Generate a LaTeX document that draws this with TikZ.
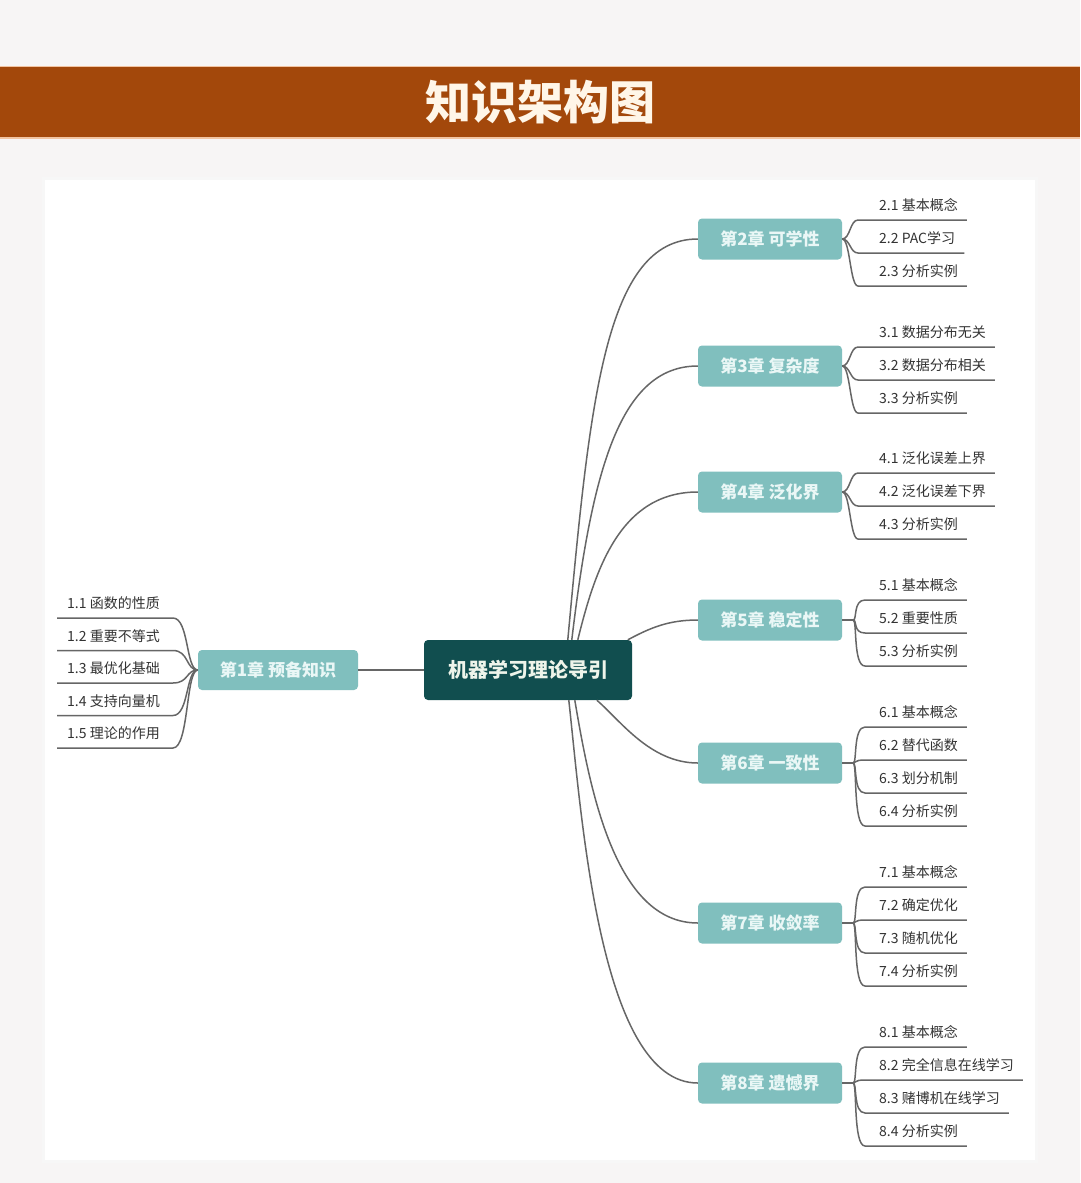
\documentclass[tikz,border=0pt]{standalone}
\usepackage{fontspec}
\setmainfont{Noto Sans CJK SC}
\usetikzlibrary{calc}
\definecolor{bgc}{HTML}{F7F5F5}
\definecolor{barc}{HTML}{A3480B}
\definecolor{baredge}{HTML}{F2C4A2}
\definecolor{titlec}{HTML}{FFF6E8}
\definecolor{centerc}{HTML}{114E4F}
\definecolor{centertxt}{HTML}{EEF4EA}
\definecolor{chapc}{HTML}{80BFBE}
\definecolor{chaptxt}{HTML}{EAF7F6}
\definecolor{linec}{HTML}{666666}
\definecolor{leafc}{HTML}{333333}
\newcommand\rleaf[5]{\node[leaf] (#1) at (#2,#3) {\kern#4#5\kern9pt};}
\newcommand\lleaf[3]{\node[leaf] (#1) at (57,#2) {\kern10pt#3\kern13pt};}
\begin{document}
\begin{tikzpicture}[x=1pt,y=-1pt,
  ln/.style={draw=linec, line width=1.5pt},
  chap/.style={fill=chapc, rounded corners=4pt, minimum width=144pt, minimum height=41pt, inner sep=0pt, text=chaptxt, font=\fontsize{17}{20}\selectfont\bfseries},
  leaf/.style={anchor=south west, inner xsep=0pt, inner ysep=6pt, text height=11pt, text depth=3pt, text=leafc, font=\fontsize{14}{16}\selectfont}]
\useasboundingbox (0,0) rectangle (1080,1183);
\fill[bgc] (0,0) rectangle (1080,1183);
% title bar
\fill[barc] (0,66) rectangle (1080,138);
\draw[baredge, line width=1pt] (0,66.5) -- (1080,66.5);
\draw[baredge, line width=1.2pt] (0,138) -- (1080,138);
\node[text=titlec, font=\fontsize{46}{50}\selectfont\bfseries] (title) at (540,102) {知识架构图};
% panel
\fill[black!3] (42,177) rectangle (1038,1163);
\fill[white] (45,180) rectangle (1035,1160);
% central and chapter nodes
\node[fill=centerc, rounded corners=4pt, minimum width=208pt, minimum height=60pt, inner sep=0pt, text=centertxt, font=\fontsize{20}{24}\selectfont\bfseries] (ctr) at (528,670) {机器学习理论导引};
\node[chap, minimum width=160pt, minimum height=40pt] (c1) at (278,670) {第1章 预备知识};
\node[chap] (c2) at (770,239) {第2章 可学性};
\node[chap] (c3) at (770,366) {第3章 复杂度};
\node[chap] (c4) at (770,492) {第4章 泛化界};
\node[chap] (c5) at (770,620) {第5章 稳定性};
\node[chap] (c6) at (770,763) {第6章 一致性};
\node[chap] (c7) at (770,923) {第7章 收敛率};
\node[chap] (c8) at (770,1083) {第8章 遗憾界};
% start points on the central node
\coordinate (s2) at ($(ctr.north west)+(144,0)$);
\coordinate (s3) at ($(ctr.north west)+(148,0)$);
\coordinate (s4) at ($(ctr.north west)+(154,0)$);
\coordinate (s5) at ($(ctr.north west)+(204,0)$);
\coordinate (s6) at ($(ctr.south west)+(173,0)$);
\coordinate (s7) at ($(ctr.south west)+(151,0)$);
\coordinate (s8) at ($(ctr.south west)+(145,0)$);
\draw[ln] (ctr.west) -- (c1.east);
\draw[ln] (s2) .. controls (590,400) and (605,239) .. (c2.west);
\draw[ln] (s3) .. controls (592,470) and (620,366) .. (c3.west);
\draw[ln] (s4) .. controls (595,570) and (620,492) .. (c4.west);
\draw[ln] (s5) .. controls (650,628) and (668,620) .. (c5.west);
\draw[ln] (s6) .. controls (620,720) and (650,763) .. (c6.west);
\draw[ln] (s7) .. controls (590,790) and (615,923) .. (c7.west);
\draw[ln] (s8) .. controls (582,820) and (600,1083) .. (c8.west);
% chapter 1 leaves
\lleaf{l11}{618}{1.1 函数的性质}
\lleaf{l12}{650.5}{1.2 重要不等式}
\lleaf{l13}{683}{1.3 最优化基础}
\lleaf{l14}{715.5}{1.4 支持向量机}
\lleaf{l15}{748}{1.5 理论的作用}
\foreach \n in {l11,l12,l13,l14,l15}
  \draw[ln] (c1.west) .. controls +(-12,0) and +(16,0) .. (\n.south east) -- (\n.south west);
% chapter 2
\rleaf{l21}{858}{220}{21pt}{2.1 基本概念}
\rleaf{l22}{858}{253}{21pt}{2.2 PAC学习}
\rleaf{l23}{858}{286}{21pt}{2.3 分析实例}
% chapter 3
\rleaf{l31}{858}{347}{21pt}{3.1 数据分布无关}
\rleaf{l32}{858}{380}{21pt}{3.2 数据分布相关}
\rleaf{l33}{858}{413}{21pt}{3.3 分析实例}
% chapter 4
\rleaf{l41}{858}{473}{21pt}{4.1 泛化误差上界}
\rleaf{l42}{858}{506}{21pt}{4.2 泛化误差下界}
\rleaf{l43}{858}{539}{21pt}{4.3 分析实例}
\foreach \c/\ls in {c2/{l21,l22,l23},c3/{l31,l32,l33},c4/{l41,l42,l43}}
  \foreach \n in \ls
    \draw[ln] (\c.east) .. controls +(8,0) and +(-8,0) .. (\n.south west) -- (\n.south east);
% chapter 5
\rleaf{l51}{865}{600}{14pt}{5.1 基本概念}
\rleaf{l52}{865}{633}{14pt}{5.2 重要性质}
\rleaf{l53}{865}{666}{14pt}{5.3 分析实例}
% chapter 6
\rleaf{l61}{865}{727}{14pt}{6.1 基本概念}
\rleaf{l62}{865}{760}{14pt}{6.2 替代函数}
\rleaf{l63}{865}{793}{14pt}{6.3 划分机制}
\rleaf{l64}{865}{826}{14pt}{6.4 分析实例}
% chapter 7
\rleaf{l71}{865}{887}{14pt}{7.1 基本概念}
\rleaf{l72}{865}{920}{14pt}{7.2 确定优化}
\rleaf{l73}{865}{953}{14pt}{7.3 随机优化}
\rleaf{l74}{865}{986}{14pt}{7.4 分析实例}
% chapter 8
\rleaf{l81}{865}{1047}{14pt}{8.1 基本概念}
\rleaf{l82}{865}{1080}{14pt}{8.2 完全信息在线学习}
\rleaf{l83}{865}{1113}{14pt}{8.3 赌博机在线学习}
\rleaf{l84}{865}{1146}{14pt}{8.4 分析实例}
\foreach \c/\ls in {c5/{l51,l52,l53},c6/{l61,l62,l63,l64},c7/{l71,l72,l73,l74},c8/{l81,l82,l83,l84}}{
  \coordinate (b\c) at ($(\c.east)+(11,0)$);
  \draw[ln] (\c.east) -- (b\c);
  \foreach \n in \ls
    \draw[ln] (b\c) .. controls +(4,0) and +(-12,0) .. (\n.south west) -- (\n.south east);
}
\end{tikzpicture}
\end{document}
